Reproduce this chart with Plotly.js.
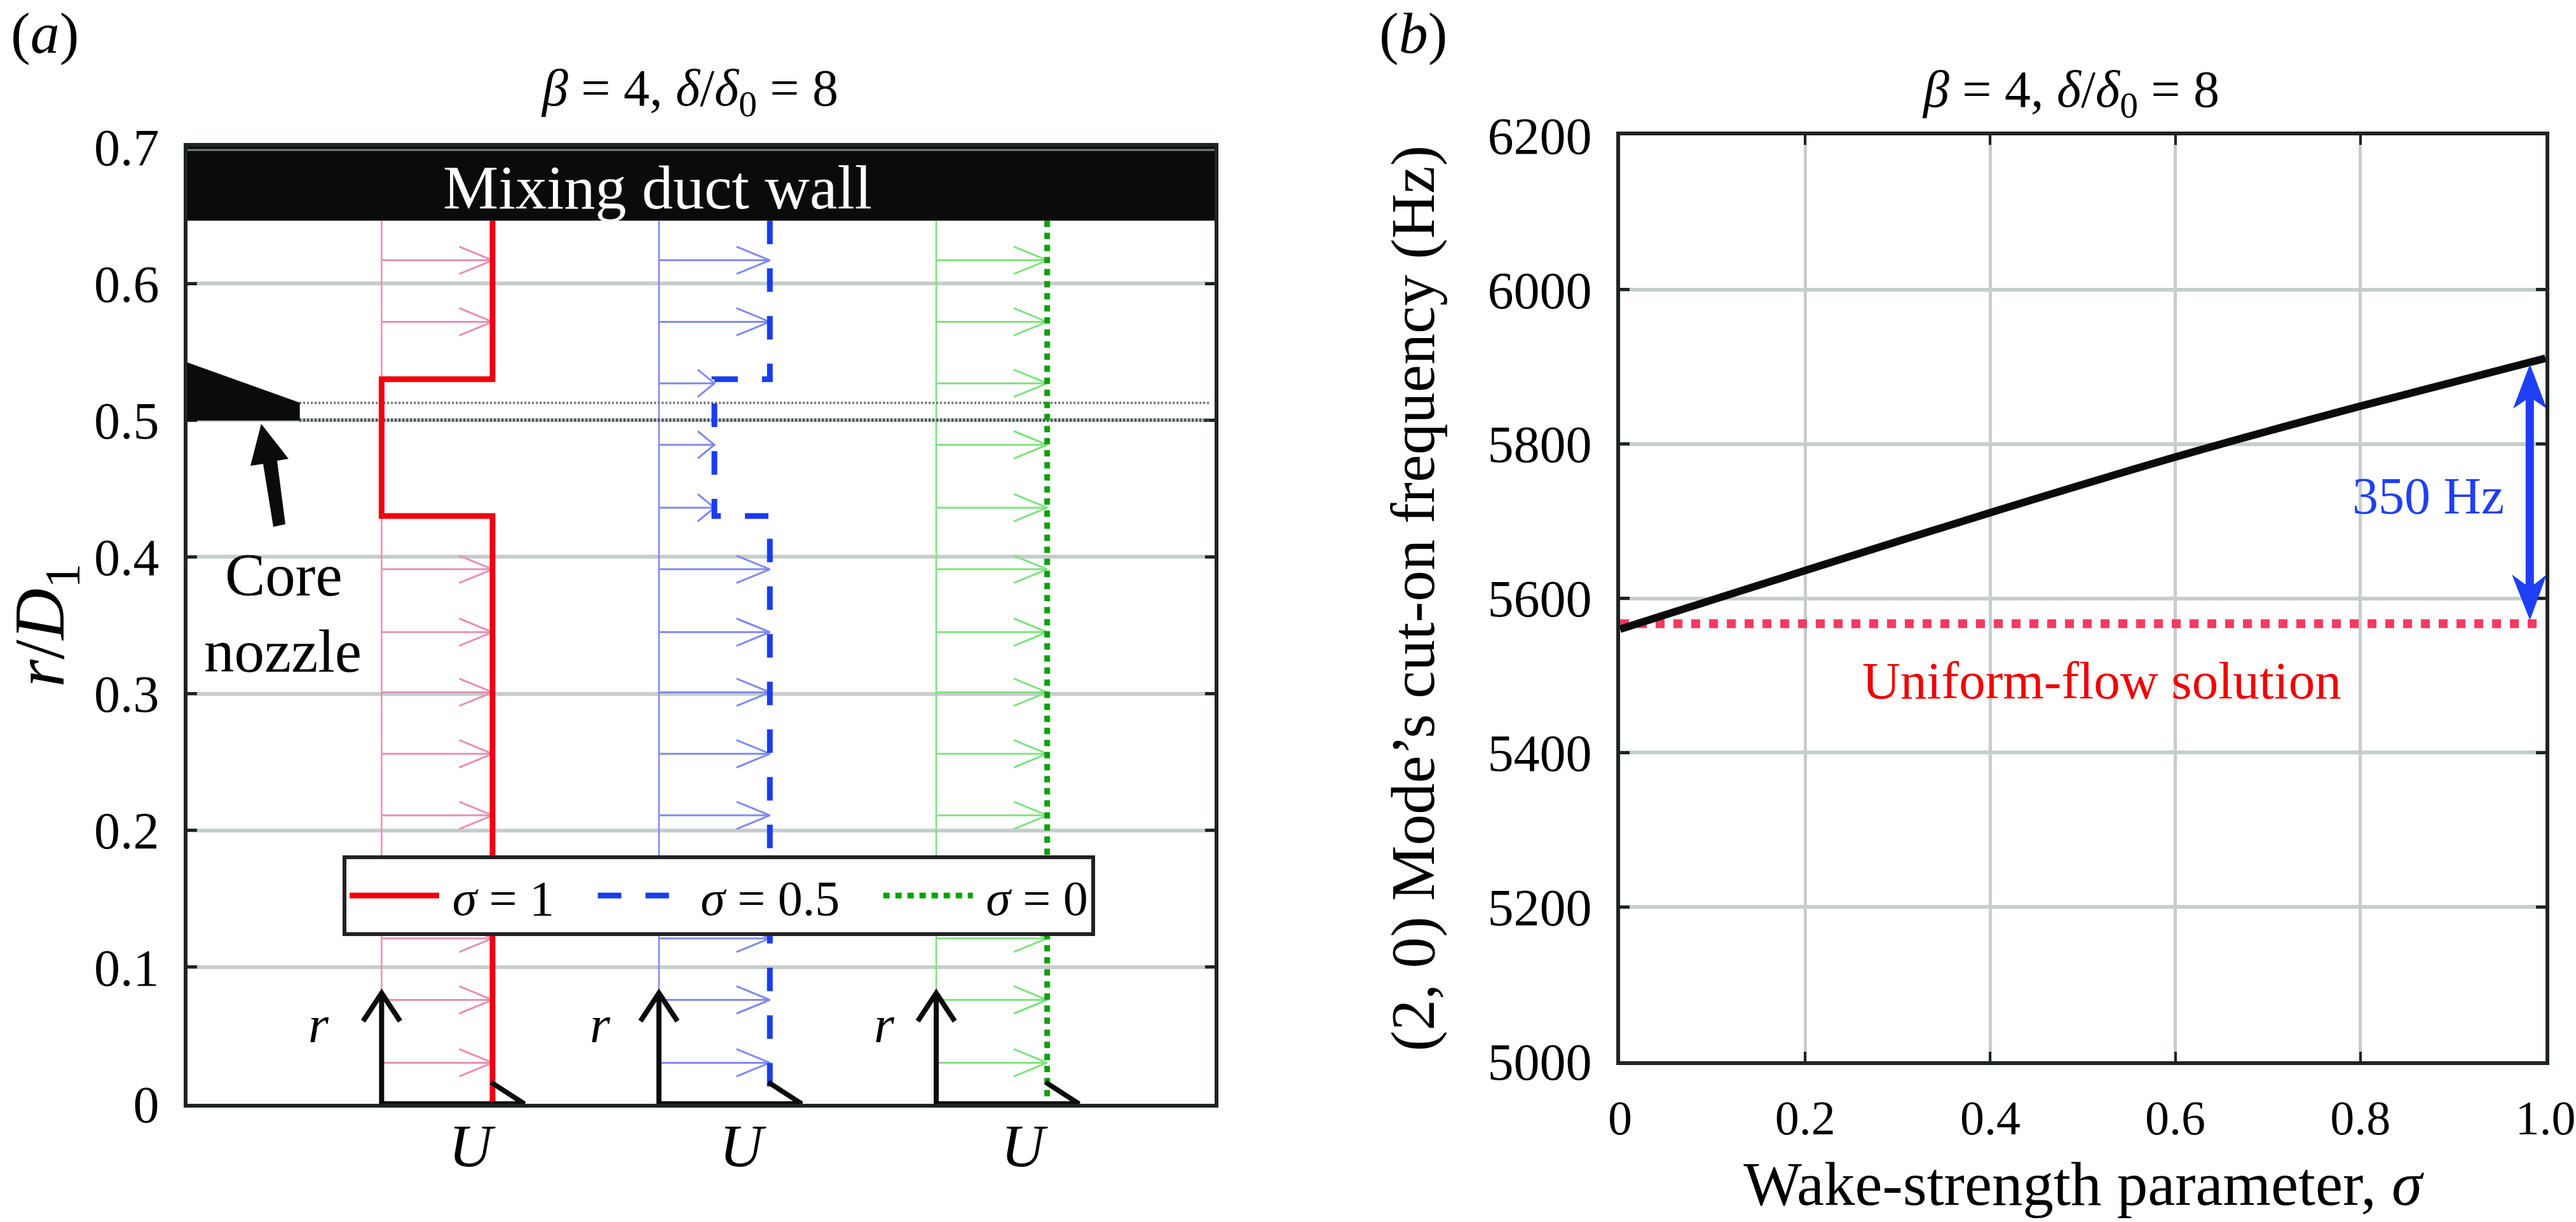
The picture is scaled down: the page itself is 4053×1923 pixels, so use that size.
<!DOCTYPE html>
<html><head><meta charset="utf-8">
<script src="https://cdn.plot.ly/plotly-3.0.1.min.js"></script>
<style>html,body{margin:0;padding:0;background:#fff}</style></head>
<body><div id="chart" style="width:4053px;height:1923px"></div>
<script>
// ---- data ----
const wallR = 0.646;
const profileR = [0.646, 0.53, 0.53, 0.43, 0.43, 0];
const profileU1 = [1, 1, 0, 0, 1, 1];       // sigma = 1
const profileU05 = [1, 1, 0.5, 0.5, 1, 1];  // sigma = 0.5
const profileU0 = [1, 1, 1, 1, 1, 1];       // sigma = 0
const arrowR = [0.617, 0.572, 0.527, 0.482, 0.436, 0.391, 0.345, 0.301, 0.256, 0.211, 0.166, 0.121, 0.076, 0.030];
const arrowU1 = [1, 1, 0, 0, 0, 1, 1, 1, 1, 1, 1, 1, 1, 1];
const arrowU05 = [1, 1, 0.5, 0.5, 0.5, 1, 1, 1, 1, 1, 1, 1, 1, 1];
const arrowU0 = [1, 1, 1, 1, 1, 1, 1, 1, 1, 1, 1, 1, 1, 1];
const nozzleX = [0, 0, 0.109, 0.109, 0];
const nozzleR = [0.5, 0.542, 0.5127, 0.5, 0.5];
const shearR = [0.5, 0.5127];
const sigma = [0, 0.2, 0.4, 0.6, 0.8, 1.0];
const cutOn = [5560, 5636, 5711, 5783, 5849, 5911];
const uniformFlow = [5567, 5567];
const yTicksA = [0, 0.1, 0.2, 0.3, 0.4, 0.5, 0.6, 0.7];
const yTickTextA = ['0', '0.1', '0.2', '0.3', '0.4', '0.5', '0.6', '0.7'];
const xTicksB = [0, 0.2, 0.4, 0.6, 0.8, 1.0];
const xTickTextB = ['0', '0.2', '0.4', '0.6', '0.8', '1.0'];
const yTicksB = [5000, 5200, 5400, 5600, 5800, 6000, 6200];

// ---- layout constants ----
const W = 4053, H = 1923;
const A = {l: 295, r: 1911, t: 231, b: 1737}, B = {l: 2549, r: 4005, t: 213, b: 1670};
const serif = 'Liberation Serif';
const ink = '#0a0c0c', frame = '#1f2424', grid = '#c6cdcd';
const columns = [0.189, 0.459, 0.729], uScale = 0.108;
const profX = (c, U) => U.map(u => columns[c] + uScale * u);
const ax = p => (p - A.l) / (A.r - A.l), ar = p => (A.b - p) / (A.b - A.t) * 0.7;
const bx = p => (p - B.l) / (B.r - B.l), by = p => 5000 + (B.b - p) / (B.b - B.t) * 1200;

function quiver(c, U, color) {
  const x = [], y = [];
  const hy = 0.0100;
  arrowR.forEach((r, i) => {
    if (U[i] <= 0) return;
    const base = columns[c], tip = base + uScale * U[i], back = 0.0325 * U[i];
    x.push(base, tip, null, tip - back, tip, tip - back, null);
    y.push(r, r, null, r + hy, r, r - hy, null);
  });
  const stemX = [columns[c], columns[c]], stemY = [0, wallR];
  return [
    {x: stemX, y: stemY, mode: 'lines', line: {color, width: 2.5}, showlegend: false, hoverinfo: 'skip'},
    {x, y, mode: 'lines', line: {color, width: 3}, showlegend: false, hoverinfo: 'skip'}
  ];
}
function axes(c) {
  const b = columns[c];
  const d = 0.139, wing = 0.1064 - 0.139;
  return {x: [b - 0.018, b, b + 0.018, null, b, b, b + d, b + d + wing],
          y: [0.0604, 0.081, 0.0604, null, 0.081, 0, 0, 0.0158]};
}

const traces = [];
traces.push(...quiver(0, arrowU1, '#e88fb4'));
traces.push(...quiver(1, arrowU05, '#7f8af2'));
traces.push(...quiver(2, arrowU0, '#7fe27f'));
shearR.forEach((r, i) => traces.push({x: [0.109, 0.996], y: [r, r], mode: 'lines',
  line: {color: i === 0 ? '#454c4c' : '#6a7070', width: i === 0 ? 5 : 3.5, dash: '3px,3px'}, showlegend: false, hoverinfo: 'skip'}));
traces.push({x: nozzleX, y: nozzleR, mode: 'lines', fill: 'toself', fillcolor: ink, line: {color: ink, width: 1}, showlegend: false, hoverinfo: 'skip'});
const lead = '\u2009', trail = '\u2002\u2005';
traces.push({name: lead + '<i>σ</i> = 1' + trail, x: profX(0, profileU1), y: profileR, mode: 'lines', line: {color: '#f00010', width: 9}});
traces.push({name: lead + '<i>σ</i> = 0.5' + trail, x: profX(1, profileU05), y: profileR, mode: 'lines', line: {color: '#1a3cf0', width: 9, dash: '37px,38px'}});
traces.push({name: lead + '<i>σ</i> = 0', x: profX(2, profileU0), y: profileR, mode: 'lines', line: {color: '#0ca010', width: 9, dash: '10px,9px'}});
[0, 1, 2].forEach(c => { const a = axes(c);
  traces.push({x: a.x, y: a.y, mode: 'lines', cliponaxis: false, line: {color: ink, width: 8}, showlegend: false, hoverinfo: 'skip'}); });

traces.push({x: [0, 1], y: uniformFlow, xaxis: 'x2', yaxis: 'y2', mode: 'lines', line: {color: '#f23b63', width: 14, dash: '14px,14px'}, showlegend: false});
traces.push({x: sigma, y: cutOn, xaxis: 'x2', yaxis: 'y2', mode: 'lines', line: {color: ink, width: 12, shape: 'spline', smoothing: 0.8}, showlegend: false});
traces.push({x: [0.983, 0.983], y: [by(930), by(620)], xaxis: 'x2', yaxis: 'y2', mode: 'lines', line: {color: '#1f3ff5', width: 13}, showlegend: false, hoverinfo: 'skip'});

function poly(pts, xref, yref, color) {
  const path = 'M' + pts.map(p => p[0] + ',' + p[1]).join(' L') + ' Z';
  return {type: 'path', path, xref, yref, fillcolor: color, line: {width: 0}, layer: 'above'};
}
const shapes = [
  {type: 'rect', xref: 'x', yref: 'y', x0: 0, x1: 1, y0: wallR, y1: 0.7, fillcolor: ink, line: {width: 0}, layer: 'above'},
  {type: 'line', xref: 'x', yref: 'y', x0: 0, x1: 1, y0: ar(236), y1: ar(236), line: {color: '#788080', width: 3}, layer: 'above'},
  poly([[411, 667], [454, 722], [436, 725], [449, 825], [430, 829], [414, 730], [394, 733]].map(p => [ax(p[0]), ar(p[1])]), 'x', 'y', ink),
  poly([[3980.5, 573], [4007, 643], [3980.5, 625], [3954, 643]].map(p => [bx(p[0]), by(p[1])]), 'x2', 'y2', '#1f3ff5'),
  poly([[3980.5, 976], [4007, 904], [3980.5, 925], [3952, 904]].map(p => [bx(p[0]), by(p[1])]), 'x2', 'y2', '#1f3ff5')
];

function note(text, cx, baseline, size, color, extra) {
  return Object.assign({text, xref: 'paper', yref: 'paper', x: cx / W, y: 1 - (baseline - 0.3375 * size) / H,
    xanchor: 'center', yanchor: 'middle', showarrow: false,
    font: {family: serif, size, color: color || '#000'}}, extra || {});
}
const titleTxt = '<i>β</i> = 4, <i>δ</i>/<i>δ</i><sub>0</sub> = 8';
const annotations = [
  note('(<i>a</i>)', 70, 83, 92),
  note('(<i>b</i>)', 2223, 83, 92),
  note(titleTxt, 1085, 172, 82),
  note(titleTxt, 3258, 174, 82),
  note('Mixing duct wall', 1034, 328, 98, '#fff'),
  note('Core', 446, 937, 95),
  note('nozzle', 445, 1057, 95),
  note('<i>r</i>', 501, 1640, 82), note('<i>r</i>', 944, 1640, 82), note('<i>r</i>', 1391, 1640, 82),
  note('<i>U</i>', 743, 1836, 95), note('<i>U</i>', 1169, 1836, 95), note('<i>U</i>', 1612, 1836, 95),
  note('350 Hz', 3820, 808, 82, '#2040f0'),
  note('Uniform-flow solution', 3307, 1099, 83, '#f00000')
];
const common = {showline: true, linecolor: frame, linewidth: 6, zeroline: false, layer: 'below traces'};
const layout = {
  width: W, height: H, autosize: false, paper_bgcolor: '#fff', plot_bgcolor: '#fff',
  margin: {l: 0, r: 0, t: 0, b: 0, pad: 0},
  font: {family: serif, color: '#000', size: 82},
  showlegend: true,
  legend: {orientation: 'h', x: 539 / W, y: 1 - 1346 / H, xanchor: 'left', yanchor: 'top', bgcolor: '#fff',
    bordercolor: '#222', borderwidth: 6, itemwidth: 141, font: {family: serif, size: 78, color: '#000'},
    itemclick: false, itemdoubleclick: false},
  xaxis: Object.assign({}, common, {domain: [A.l / W, A.r / W], range: [0, 1], mirror: true, showgrid: false, showticklabels: false, ticks: ''}),
  yaxis: Object.assign({}, common, {domain: [1 - A.b / H, 1 - A.t / H], range: [0, 0.7], mirror: 'ticks', showgrid: true, gridcolor: grid, gridwidth: 6,
    tickmode: 'array', tickvals: yTicksA, ticktext: yTickTextA, ticks: 'inside', ticklen: 15, tickwidth: 5, tickcolor: frame,
    tickfont: {family: serif, size: 82}, ticklabelstandoff: 22,
    title: {text: '<i>r</i>/<i>D</i><sub>1</sub>', font: {family: serif, size: 112}, standoff: 33}}),
  xaxis2: Object.assign({}, common, {anchor: 'y2', domain: [B.l / W, B.r / W], range: [0, 1], mirror: 'ticks', showgrid: true, gridcolor: grid, gridwidth: 5,
    tickmode: 'array', tickvals: xTicksB, ticktext: xTickTextB, ticks: 'inside', ticklen: 15, tickwidth: 4, tickcolor: frame,
    ticklabeloverflow: 'allow', tickfont: {family: serif, size: 76}, ticklabelstandoff: 18,
    title: {text: 'Wake-strength parameter, <i>σ</i>', font: {family: serif, size: 97}, standoff: 30}}),
  yaxis2: Object.assign({}, common, {anchor: 'x2', domain: [1 - B.b / H, 1 - B.t / H], range: [5000, 6200], mirror: 'ticks', showgrid: true, gridcolor: grid, gridwidth: 6,
    tickmode: 'array', tickvals: yTicksB, ticks: 'inside', ticklen: 15, tickwidth: 5, tickcolor: frame,
    tickfont: {family: serif, size: 82}, ticklabelstandoff: 22,
    title: {text: '(2, 0) Mode’s cut-on frequency (Hz)', font: {family: serif, size: 98}, standoff: 53}}),
  shapes, annotations
};
Plotly.newPlot('chart', traces, layout, {displayModeBar: false, staticPlot: true});
</script></body></html>
